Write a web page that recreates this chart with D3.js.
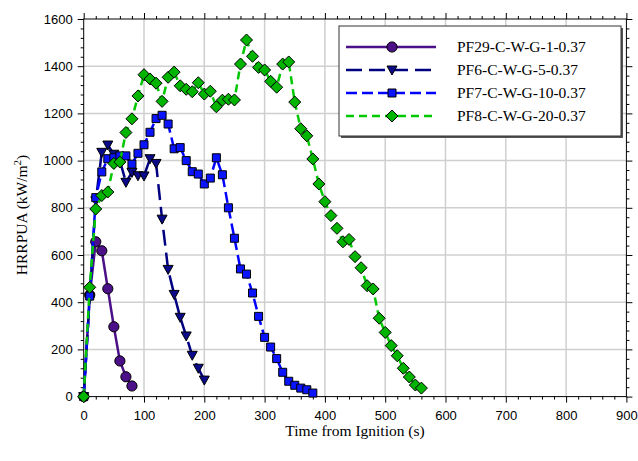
<!DOCTYPE html>
<html><head><meta charset="utf-8">
<script src="https://cdn.jsdelivr.net/npm/d3@7"></script>
<style>body{margin:0;background:#fff}svg{display:block}</style>
</head><body>
<svg id="c" width="638" height="461"></svg>
<script>
const seriesNames = ["PF29-C-W-G-1-0.37","PF6-C-W-G-5-0.37","PF7-C-W-G-10-0.37","PF8-C-W-G-20-0.37"];
const pf29Time = [0,10,20,30,40,50,60,70,80];
const pf29Hrr  = [0,430,656,618,457,296,151,84,45];
const pf6Time = [0,10,20,30,40,50,60,70,80,90,100,110,120,130,140,150,160,170,180,190,200];
const pf6Hrr  = [0,420,830,1035,1066,1027,1000,908,950,936,935,1008,988,752,539,433,336,257,175,120,70];
const pf7Time = [0,10,20,30,40,50,60,70,80,90,100,110,120,130,140,150,160,170,180,190,200,210,220,230,240,250,260,270,280,290,300,310,320,330,340,350,360,370,380];
const pf7Hrr  = [0,426,843,952,1008,1012,1020,1020,985,1031,1067,1120,1178,1192,1155,1050,1055,1000,953,943,901,926,1012,940,800,671,541,519,439,340,251,210,161,103,65,48,36,29,15];
const pf8Time = [0,10,20,30,40,50,60,70,80,90,100,110,120,130,140,150,160,170,180,190,200,210,220,230,240,250,260,270,280,290,300,310,320,330,340,350,360,370,380,390,400,410,420,430,440,450,460,470,480,490,500,510,520,530,540,550,560];
const pf8Hrr  = [0,463,795,852,867,988,994,1119,1177,1274,1364,1346,1328,1251,1353,1375,1317,1302,1292,1330,1282,1294,1228,1256,1260,1257,1409,1511,1442,1395,1384,1336,1311,1409,1418,1248,1135,1105,1007,901,826,767,713,656,666,593,546,470,456,332,272,216,173,120,83,49,36];
const xTicks = [0,100,200,300,400,500,600,700,800,900];
const yTicks = [0,200,400,600,800,1000,1200,1400,1600];
const xTitle = "Time from Ignition (s)";

const series = [
  {name: seriesNames[0], t: pf29Time, v: pf29Hrr, color:"#4b0f88", fill:"#4b0f88", dash:null, marker:"circle"},
  {name: seriesNames[1], t: pf6Time, v: pf6Hrr, color:"#000080", fill:"#0a0a8a", dash:"16,7", marker:"triangle"},
  {name: seriesNames[2], t: pf7Time, v: pf7Hrr, color:"#0000ff", fill:"#0a14ff", dash:"11,5", marker:"square"},
  {name: seriesNames[3], t: pf8Time, v: pf8Hrr, color:"#00c800", fill:"#00b400", dash:"8,5", marker:"diamond"}
];

const svg = d3.select("#c");
const L = 83.7, R = 626.4, T = 19, B = 396.6;
const x = d3.scaleLinear().domain([0,900]).range([L,R]);
const y = d3.scaleLinear().domain([0,1600]).range([B,T]);

// grid
const g = svg.append("g");
g.selectAll(".gx").data(xTicks.slice(1,-1)).enter().append("line")
  .attr("x1",d=>x(d)).attr("x2",d=>x(d)).attr("y1",T).attr("y2",B)
  .attr("stroke","#cfcfcf").attr("stroke-width",1.5);
g.selectAll(".gy").data(yTicks.slice(1,-1)).enter().append("line")
  .attr("x1",L).attr("x2",R).attr("y1",d=>y(d)).attr("y2",d=>y(d))
  .attr("stroke","#cfcfcf").attr("stroke-width",1.5);

// axes
const xMinor = d3.range(0,901,20).filter(d=>d%100!==0);
const yMinor = d3.range(0,1601,40).filter(d=>d%200!==0);
function styleAxis(sel){
  sel.select(".domain").remove();
  sel.selectAll("line").attr("stroke","#000");
  sel.selectAll("text").attr("font-family","Liberation Sans, Arial, sans-serif").attr("font-size",13).attr("fill","#000");
}
const axB = svg.append("g").attr("transform",`translate(0,${B})`).call(d3.axisBottom(x).tickValues(xTicks).tickSize(6).tickPadding(8).tickFormat(d3.format("d")));
styleAxis(axB);
svg.append("g").attr("transform",`translate(0,${B})`).call(d3.axisBottom(x).tickValues(xMinor).tickSize(3).tickFormat("")).call(styleAxis);
const axL = svg.append("g").attr("transform",`translate(${L},0)`).call(d3.axisLeft(y).tickValues(yTicks).tickSize(6).tickPadding(5).tickFormat(d3.format("d")));
styleAxis(axL);
svg.append("g").attr("transform",`translate(${L},0)`).call(d3.axisLeft(y).tickValues(yMinor).tickSize(3).tickFormat("")).call(styleAxis);
svg.append("g").attr("transform",`translate(0,${T})`).call(d3.axisTop(x).tickValues(xTicks).tickSize(6).tickFormat("")).call(styleAxis);
svg.append("g").attr("transform",`translate(0,${T})`).call(d3.axisTop(x).tickValues(xMinor).tickSize(3).tickFormat("")).call(styleAxis);
svg.append("g").attr("transform",`translate(${R},0)`).call(d3.axisRight(y).tickValues(yTicks).tickSize(6).tickFormat("")).call(styleAxis);
svg.append("g").attr("transform",`translate(${R},0)`).call(d3.axisRight(y).tickValues(yMinor).tickSize(3).tickFormat("")).call(styleAxis);
svg.append("rect").attr("x",L).attr("y",T).attr("width",R-L).attr("height",B-T)
  .attr("fill","none").attr("stroke","#000").attr("stroke-width",1);

// marker symbols
function symPath(type){
  if(type==="circle") return d3.symbol(d3.symbolCircle, 82)();
  if(type==="square") return d3.symbol(d3.symbolSquare, 64)();
  if(type==="diamond") return "M0,-6L6,0L0,6L-6,0Z";
  if(type==="triangle") return "M-5,-4L5,-4L0,5Z";
}

const line = d3.line().x(d=>x(d[0])).y(d=>y(d[1]));
series.forEach(s=>{
  const pts = s.t.map((t,i)=>[t,s.v[i]]);
  const gs = svg.append("g");
  gs.append("path").datum(pts).attr("d",line).attr("fill","none")
    .attr("stroke",s.color).attr("stroke-width",2.5)
    .attr("stroke-dasharray",s.dash);
  gs.selectAll("path.m").data(pts).enter().append("path").attr("class","m")
    .attr("d",symPath(s.marker))
    .attr("transform",d=>`translate(${x(d[0])},${y(d[1])})`)
    .attr("fill",s.fill).attr("stroke","#000").attr("stroke-width",1);
});

// legend
const lg = svg.append("g");
lg.append("rect").attr("x",341).attr("y",28).attr("width",282).attr("height",110).attr("fill","#555");
lg.append("rect").attr("x",339).attr("y",26).attr("width",282).attr("height",110)
  .attr("fill","#fff").attr("stroke","#333").attr("stroke-width",1);
series.forEach((s,i)=>{
  const yy = 47 + i*23;
  lg.append("line").attr("x1",346).attr("x2",436).attr("y1",yy).attr("y2",yy)
    .attr("stroke",s.color).attr("stroke-width",2.5).attr("stroke-dasharray",s.dash);
  lg.append("path").attr("d",symPath(s.marker)).attr("transform",`translate(392,${yy})`)
    .attr("fill",s.fill).attr("stroke","#000").attr("stroke-width",1);
  lg.append("text").attr("x",457).attr("y",yy+5).text(s.name)
    .attr("font-family","Liberation Serif, Times New Roman, serif").attr("font-size",15.5).attr("fill","#000");
});

// titles
svg.append("text").attr("x",(L+R)/2).attr("y",436).attr("text-anchor","middle")
  .attr("font-family","Liberation Serif, Times New Roman, serif").attr("font-size",15.5).text(xTitle);
const yl = svg.append("text").attr("transform","translate(27,215) rotate(-90)").attr("text-anchor","middle")
  .attr("font-family","Liberation Serif, Times New Roman, serif").attr("font-size",15.5);
yl.append("tspan").text("HRRPUA (kW/m");
yl.append("tspan").attr("dy",-6).attr("font-size",11).text("2");
yl.append("tspan").attr("dy",6).text(")");
</script>
</body></html>
